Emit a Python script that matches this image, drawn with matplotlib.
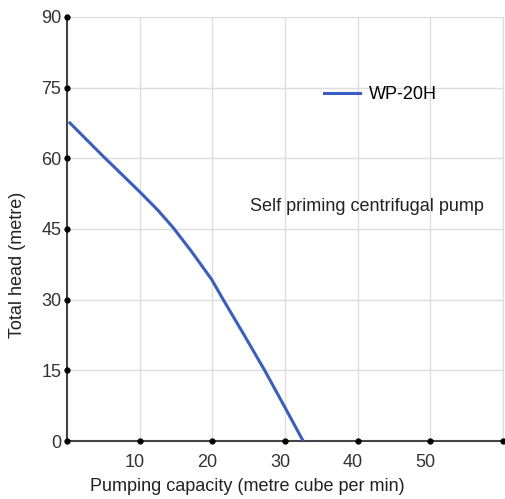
import numpy as np
import matplotlib.pyplot as plt
import matplotlib.transforms as mtransforms

plt.rcParams['font.family'] = ['Liberation Sans', 'DejaVu Sans']

# curve
capacity = [0.4, 5.0, 10.0, 12.5, 14.6, 17.1, 19.9, 21.5, 24.3, 27.2, 29.9, 32.5]
head = [67.5, 60.4, 52.9, 49.0, 45.3, 40.3, 34.3, 30.0, 22.7, 15.0, 7.4, 0.0]
xticks = [10, 20, 30, 40, 50]
yticks = [0, 15, 30, 45, 60, 75, 90]

fig = plt.figure(figsize=(5.05, 4.99), dpi=100)
ax = fig.add_axes([0.1327, 0.1162, 0.8633, 0.8498])

ax.set_xlim(0, 60)
ax.set_ylim(0, 90)
ax.set_xticks(xticks + [60])
ax.set_xticklabels([str(t) for t in xticks] + [''])
ax.set_yticks(yticks)
ax.grid(True, color='#dddddd', linewidth=1)
ax.set_axisbelow(True)
ax.tick_params(length=0, labelsize=13, colors='#333333')
ax.tick_params(axis='x', pad=9)
ax.tick_params(axis='y', pad=4)

# x labels sit a little left of their gridlines in the original
shift = mtransforms.ScaledTranslation(-5 / 100, 0, fig.dpi_scale_trans)
for lab in ax.get_xticklabels():
    lab.set_transform(lab.get_transform() + shift)

for s in ['top', 'right']:
    ax.spines[s].set_color('#dddddd')
for s in ['left', 'bottom']:
    ax.spines[s].set_color('#444444')
    ax.spines[s].set_linewidth(1.5)

# dot markers at ticks
ax.plot([0] * len(yticks), yticks, 'o', color='black', ms=3.5, clip_on=False, zorder=5)
ax.plot(xticks + [60], [0] * (len(xticks) + 1), 'o', color='black', ms=3.5, clip_on=False, zorder=5)

ax.plot(capacity, head, color='#3a5cc6', linewidth=2.2, label='WP-20H', zorder=4,
        solid_joinstyle='round')

ax.legend(loc='center left', bbox_to_anchor=(0.589, 0.816), frameon=False, fontsize=13,
          handlelength=2.0, handletextpad=0.5, borderpad=0, borderaxespad=0)
ax.text(25.2, 49.7, 'Self priming centrifugal pump', fontsize=13, color='#222222', va='center')

ax.set_xlabel('Pumping capacity (metre cube per min)', fontsize=13, color='#222222')
ax.set_ylabel('Total head (metre)', fontsize=13, color='#222222')
ax.xaxis.set_label_coords(0.414, -0.087)
ax.yaxis.set_label_coords(-0.094, 0.415)

fig.savefig('out.png', dpi=100)
